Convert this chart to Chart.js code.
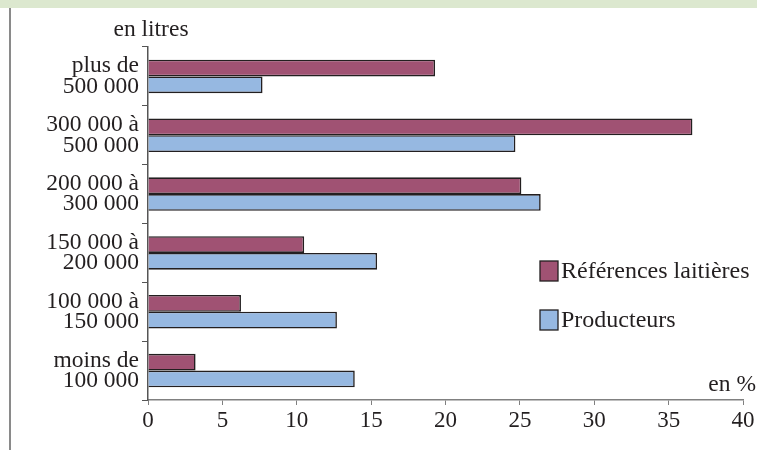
<!DOCTYPE html>
<html>
<head>
<meta charset="utf-8">
<script src="https://cdn.jsdelivr.net/npm/chart.js@4"></script>
<style>
    body { margin: 0; background: #fff; }
    #wrap { position: relative; width: 757px; height: 450px; overflow: hidden; }
    #band { position: absolute; left: 0; top: 0; width: 757px; height: 8px; background: #dce8cf; }
    #edge { position: absolute; left: 9px; top: 8px; width: 2px; height: 442px; background: #8a8a8a; }
    canvas { position: absolute; left: 0; top: 0; }
</style>
</head>
<body>
<div id="wrap">
    <div id="band"></div>
    <div id="edge"></div>
    <canvas id="chart" width="757" height="450"></canvas>
</div>
<script>
var categories = [
    ['plus de', '500 000'],
    ['300 000 à', '500 000'],
    ['200 000 à', '300 000'],
    ['150 000 à', '200 000'],
    ['100 000 à', '150 000'],
    ['moins de', '100 000']
];
var references = [19.3, 36.6, 25.1, 10.5, 6.25, 3.2];
var producteurs = [7.7, 24.7, 26.4, 15.4, 12.7, 13.9];
var seriesNames = ['Références laitières', 'Producteurs'];
var xTicks = [0, 5, 10, 15, 20, 25, 30, 35, 40];

var serif = 'Liberation Serif, Times New Roman, serif';

var extrasPlugin = {
    id: 'extras',
    afterDraw: function(chart) {
        var ctx = chart.ctx;
        ctx.save();
        ctx.fillStyle = '#231f20';
        ctx.font = '23.5px ' + serif;
        ctx.textBaseline = 'middle';
        ctx.textAlign = 'center';
        ctx.fillText('en litres', 151, 30);
        ctx.textAlign = 'right';
        ctx.fillText('en %', 756, 385);

        // legend
        var items = chart.data.datasets;
        var y0 = [271, 320];
        ctx.font = '24px ' + serif;
        ctx.textAlign = 'left';
        for (var i = 0; i < items.length; i++) {
            ctx.fillStyle = items[i].backgroundColor;
            ctx.fillRect(540, y0[i] - 10, 18, 20);
            ctx.strokeStyle = '#231f20';
            ctx.lineWidth = 1.3;
            ctx.strokeRect(540, y0[i] - 10, 18, 20);
            ctx.fillStyle = '#231f20';
            ctx.fillText(items[i].label, 561, y0[i] + 1);
        }
        ctx.restore();
    }
};

var chart = new Chart(document.getElementById('chart').getContext('2d'), {
    type: 'bar',
    data: {
        labels: categories,
        datasets: [
            {
                label: seriesNames[0],
                data: references,
                backgroundColor: '#a05273',
                borderColor: '#231f20',
                borderWidth: 1.6,
                categoryPercentage: 0.57,
                barPercentage: 1
            },
            {
                label: seriesNames[1],
                data: producteurs,
                backgroundColor: '#96b8e1',
                borderColor: '#231f20',
                borderWidth: 1.6,
                categoryPercentage: 0.57,
                barPercentage: 1
            }
        ]
    },
    options: {
        indexAxis: 'y',
        responsive: false,
        animation: false,
        layout: { padding: { top: 47, right: 14, left: 0, bottom: 0 } },
        plugins: {
            legend: { display: false },
            tooltip: { enabled: false }
        },
        scales: {
            x: {
                min: 0,
                max: 40,
                afterBuildTicks: function(scale) {
                    scale.ticks = xTicks.map(function(v) { return { value: v }; });
                },
                afterFit: function(scale) { scale.height = 50; },
                border: { color: '#808080', width: 1.5 },
                grid: { drawOnChartArea: false, drawTicks: true, tickLength: 5, color: '#808080' },
                ticks: {
                    color: '#231f20',
                    padding: 2,
                    maxRotation: 0,
                    font: { family: serif, size: 23 }
                }
            },
            y: {
                afterFit: function(scale) { scale.width = 148; },
                border: { color: '#555', width: 1.5 },
                grid: { offset: true, drawOnChartArea: false, drawTicks: true, tickLength: 6, color: '#555' },
                ticks: {
                    color: '#231f20',
                    padding: 3,
                    font: { family: serif, size: 23.5, lineHeight: 0.86 }
                }
            }
        }
    },
    plugins: [extrasPlugin]
});
</script>
</body>
</html>
